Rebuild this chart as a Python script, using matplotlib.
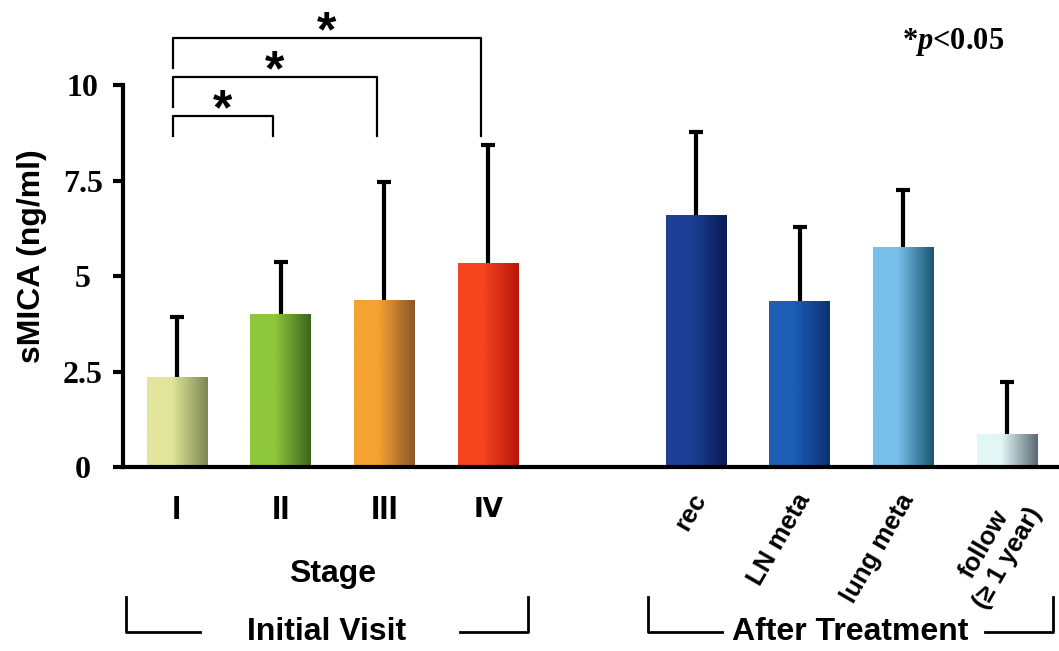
import numpy as np
import matplotlib
matplotlib.use("Agg")
import matplotlib.pyplot as plt
from matplotlib.colors import LinearSegmentedColormap
import matplotlib.transforms as mtransforms

plt.rcParams['mathtext.fontset'] = 'custom'
plt.rcParams['mathtext.rm'] = 'Liberation Serif:bold'
plt.rcParams['mathtext.it'] = 'Liberation Serif:bold:italic'

SANS = ['Liberation Sans', 'DejaVu Sans', 'Noto Sans CJK JP']

# ---- data ----
stage_labels = ["I", "II", "III", "\u2163"]
after_labels = ["rec", "LN meta", "lung meta", "follow\n(\u2265 1 year)"]
stage_means = [2.36, 4.00, 4.37, 5.34]
stage_sd = [1.57, 1.37, 3.09, 3.09]
after_means = [6.60, 4.35, 5.76, 0.86]
after_sd = [2.17, 1.93, 1.49, 1.37]
yticks = [0, 2.5, 5, 7.5, 10]
ytick_labels = ["0", "2.5", "5", "7.5", "10"]
bar_colors = [("#e2e69c", "#7c8a52"), ("#8ec63c", "#3c661c"),
              ("#f5a232", "#8a5828"), ("#f6441f", "#b8180e"),
              ("#1d4096", "#0a1d56"), ("#1e5eb6", "#0b3274"),
              ("#78c0ea", "#1a5670"), ("#e2f6f6", "#5a6a76")]
sig_pairs = [(0, 1), (0, 2), (0, 3)]

stage_pos = np.arange(4)
after_pos = np.arange(4) + 5
positions = np.concatenate([stage_pos, after_pos])
means = stage_means + after_means
sds = stage_sd + after_sd

fig = plt.figure(figsize=(10.59, 6.51), dpi=100)
ax = fig.add_axes([0.116, 0.2826, 0.882, 0.5868])

bars = ax.bar(positions, means, width=0.58, color=[c[0] for c in bar_colors],
              zorder=2, linewidth=0)
for b, (c0, c1) in zip(bars, bar_colors):
    cmap = LinearSegmentedColormap.from_list("g", [(0, c0), (0.4, c0), (1, c1)])
    grad = np.linspace(0, 1, 64).reshape(1, -1)
    x0 = b.get_x(); w = b.get_width(); h = b.get_height()
    im = ax.imshow(grad, extent=(x0, x0 + w, 0, h), aspect='auto', cmap=cmap,
                   zorder=2.5, interpolation='bilinear')
    im.set_clip_path(b)

eb = ax.errorbar(positions, means, yerr=[np.zeros(len(means)), sds], fmt='none',
                 ecolor='black', elinewidth=3, capsize=5, capthick=3, zorder=3)
eb[1][0].set_visible(False)

ax.set_xlim(-0.52, 8.48)
ax.set_ylim(0, 10)

for s in ['top', 'right']:
    ax.spines[s].set_visible(False)
ax.spines['left'].set_linewidth(3)
ax.spines['bottom'].set_linewidth(3)
ax.set_yticks(yticks)
ax.set_yticklabels(ytick_labels, fontfamily='Liberation Serif', fontweight='bold',
                   fontsize=23)
ax.tick_params(axis='y', length=7, width=3, pad=22)
for lab in ax.get_yticklabels():
    lab.set_horizontalalignment('center')
ax.set_xticks([])

fig.text(32 / 1059, 1 - 256 / 651, "sMICA (ng/ml)", rotation=90, ha='center',
         va='center', fontfamily=SANS, fontweight='bold', fontsize=23)

tr = mtransforms.blended_transform_factory(ax.transData, ax.transAxes)

# stage tick labels (the single-glyph roman numeral comes from a wider font)
for p, l in zip(stage_pos, stage_labels):
    fs = 24 if l.isascii() else 19
    ax.text(p, -0.113, l, transform=tr, ha='center', va='center',
            fontfamily=SANS, fontweight='bold', fontsize=fs)
# rotated labels
for p, l in zip(after_pos, after_labels):
    ax.annotate(l, xy=(p, 0), xycoords=tr, xytext=(-4, -16), textcoords='offset points',
                rotation=60, rotation_mode='anchor', ha='right', va='top',
                fontfamily=SANS, fontweight='bold', fontsize=18.5,
                multialignment='center', annotation_clip=False)

ax.text(stage_pos.mean(), -0.28, "Stage", transform=tr, ha='center', va='center',
        fontfamily=SANS, fontweight='bold', fontsize=23)

# group brackets
groups = [(stage_pos[0] - 0.49, stage_pos[-1] + 0.38, "Initial Visit"),
          (after_pos[0] - 0.46, after_pos[-1] + 0.44, "After Treatment")]
for x0, x1, name in groups:
    ytop, ybot = -0.34, -0.433
    kw = dict(color='black', lw=2, transform=tr, clip_on=False)
    ax.plot([x0, x0, x0 + 0.71], [ytop, ybot, ybot], **kw)
    ax.plot([x1 - 0.65, x1, x1], [ybot, ybot, ytop], **kw)
    ax.text((x0 + x1) / 2, ybot, name, transform=tr, ha='center', va='center',
            fontfamily=SANS, fontweight='bold', fontsize=23)

# significance brackets
levels = [(9.19, 8.66, 8.66), (10.21, 9.42, 8.66), (11.23, 10.44, 8.66)]
for (i, j), (yh, yl, yr) in zip(sig_pairs, levels):
    xa = positions[i] - 0.04
    xb = positions[j] - 0.07
    ax.plot([xa, xa, xb, xb], [yl, yh, yh, yr], color='black', lw=1.6,
            clip_on=False, zorder=4)
    ax.text((xa + xb) / 2, yh - 0.22, "*", ha='center', va='baseline',
            fontfamily=SANS, fontweight='bold', fontsize=36)

fig.text(953 / 1059, 1 - 42 / 651, r"*$\mathit{p}$<0.05", ha='center', va='center',
         fontfamily='Liberation Serif', fontweight='bold', fontsize=22)

fig.savefig("out.png", dpi=100)
